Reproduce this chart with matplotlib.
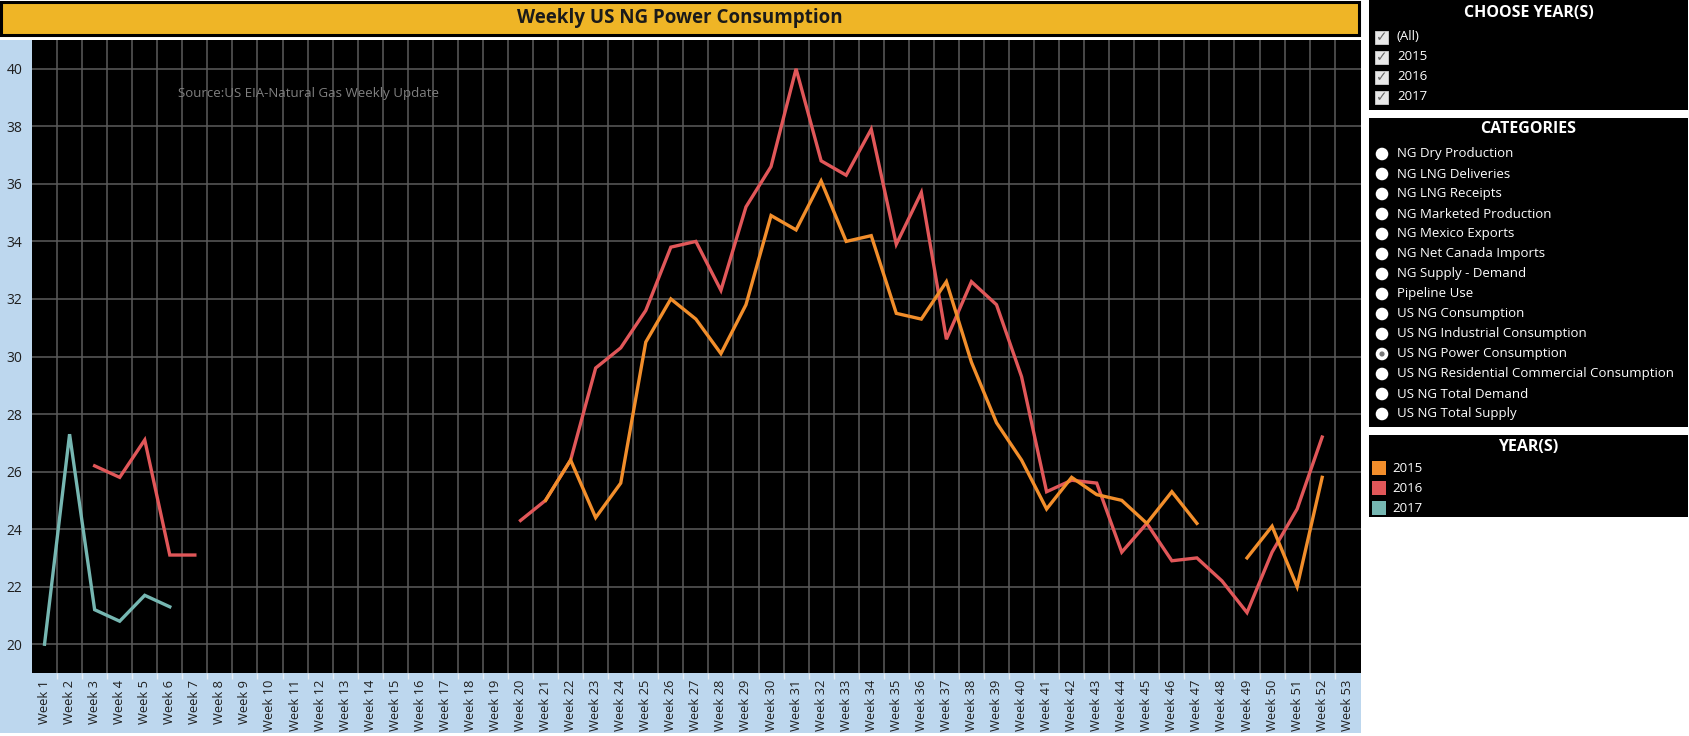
import numpy as np
import pandas as pd
import matplotlib.pyplot as plt
from matplotlib.patches import Rectangle, Circle

plt.rcParams['font.family'] = ['Open Sans', 'DejaVu Sans']

# weekly values (missing weeks left out)
weeks_2015 = list(range(21, 48)) + [49, 50, 51, 52]
vals_2015 = [25.0, 26.4, 24.4, 25.6, 30.5, 32.0, 31.3, 30.1, 31.8, 34.9,
             34.4, 36.1, 34.0, 34.2, 31.5, 31.3, 32.6, 29.8, 27.7, 26.4,
             24.7, 25.8, 25.2, 25.0, 24.2, 25.3, 24.2,
             23.0, 24.1, 22.0, 25.8]
weeks_2016 = [3, 4, 5, 6, 7] + list(range(20, 53))
vals_2016 = [26.2, 25.8, 27.1, 23.1, 23.1,
             24.3, 25.0, 26.4, 29.6, 30.3, 31.6, 33.8, 34.0, 32.3, 35.2,
             36.6, 40.0, 36.8, 36.3, 37.9, 33.9, 35.7, 30.6, 32.6, 31.8,
             29.3, 25.3, 25.7, 25.6, 23.2, 24.2, 22.9, 23.0, 22.2, 21.1,
             23.2, 24.7, 27.2]
weeks_2017 = [1, 2, 3, 4, 5, 6]
vals_2017 = [20.0, 27.3, 21.2, 20.8, 21.7, 21.3]

week_labels = ['Week %i' % i for i in range(1, 54)]
years = ['2015', '2016', '2017']
year_colors = ['#F28E2B', '#E15759', '#76B7B2']
categories = ['NG Dry Production', 'NG LNG Deliveries', 'NG LNG Receipts',
              'NG Marketed Production', 'NG Mexico Exports', 'NG Net Canada Imports',
              'NG Supply - Demand', 'Pipeline Use', 'US NG Consumption',
              'US NG Industrial Consumption', 'US NG Power Consumption',
              'US NG Residential Commercial Consumption', 'US NG Total Demand',
              'US NG Total Supply']
selected = 'US NG Power Consumption'

W, H = 1689, 736
fig = plt.figure(figsize=(W / 100, H / 100), dpi=100)
fig.patch.set_facecolor('white')

# pixel overlay for the dashboard frame
bg = fig.add_axes([0, 0, 1, 1], zorder=0)
bg.set_xlim(0, W)
bg.set_ylim(H, 0)
bg.axis('off')

# title bar and chart panel
bg.add_patch(Rectangle((1.5, 1.5), 1358, 33, facecolor='#EFB526',
                       edgecolor='black', linewidth=2.2))
bg.text(680, 18, 'Weekly US NG Power Consumption', ha='center', va='center',
        fontsize=13.5, fontweight='bold', color='#1a1a1a')
bg.add_patch(Rectangle((0, 40), 1361, 693, facecolor='#BDD7EE', edgecolor='none'))

# main plot
pl, pt, pr, pb = 32, 40, 1361, 673
ax = fig.add_axes([pl / W, 1 - pb / H, (pr - pl) / W, (pb - pt) / H], zorder=1)
ax.set_facecolor('black')

x = np.arange(1, 54)
series = {}
for yr, wk, vals in [('2016', weeks_2016, vals_2016),
                     ('2015', weeks_2015, vals_2015),
                     ('2017', weeks_2017, vals_2017)]:
    series[yr] = pd.Series(vals, index=wk).reindex(x)
for yr in ['2016', '2015', '2017']:
    ax.plot(x, series[yr].values, color=year_colors[years.index(yr)],
            linewidth=2.4, solid_joinstyle='miter', zorder=3)

ax.set_xlim(0.5, 53.55)
ax.set_ylim(19, 41)
ax.set_yticks(np.arange(20, 41, 2))
ax.set_xticks(x)
ax.set_xticklabels(week_labels, rotation=90, fontsize=9.3, color='#1e1e1e')
ax.set_xticks(np.arange(1.5, 53, 1), minor=True)
ax.tick_params(axis='x', which='major', length=0, pad=5)
ax.tick_params(axis='x', which='minor', length=4, color='#e8eef5', width=1)
ax.tick_params(axis='y', length=0, pad=7, labelsize=10, labelcolor='#1e1e1e')
ax.grid(axis='y', which='major', color='#5c5c5c', linewidth=1.1)
ax.grid(axis='x', which='minor', color='#5c5c5c', linewidth=1.1)
for s in ax.spines.values():
    s.set_visible(False)
ax.text(0.11, 0.916, 'Source:US EIA-Natural Gas Weekly Update', transform=ax.transAxes,
        ha='left', va='center', fontsize=9.5, color='#808080')

# filter panel: years
px0, px1 = 1369, 1688
bg.add_patch(Rectangle((px0, 0), px1 - px0, 110, facecolor='black'))
bg.text((px0 + px1) / 2, 13, 'CHOOSE YEAR(S)', ha='center', va='center',
        fontsize=11.5, fontweight='bold', color='white')
for i, lab in enumerate(['(All)'] + years):
    yy = 37 + 20 * i
    bg.add_patch(Rectangle((1375.5, yy - 6.5), 13, 13, facecolor='#e9e9e9',
                           edgecolor='#c4c4c4', linewidth=0.7))
    bg.text(1382, yy + 0.5, '\u2713', ha='center', va='center', fontsize=10,
            color='#6a6a6a', family='DejaVu Sans')
    bg.text(1397, yy, lab, ha='left', va='center', fontsize=9.5, color='white')

# category panel
bg.add_patch(Rectangle((px0, 118), px1 - px0, 309, facecolor='black'))
bg.text((px0 + px1) / 2, 129, 'CATEGORIES', ha='center', va='center',
        fontsize=11.5, fontweight='bold', color='white')
for i, lab in enumerate(categories):
    yy = 154 + 20 * i
    bg.add_patch(Circle((1382, yy), 6.3, facecolor='white', edgecolor='none'))
    if lab == selected:
        bg.add_patch(Circle((1382, yy), 2.6, facecolor='#777777', edgecolor='none'))
    bg.text(1397, yy, lab, ha='left', va='center', fontsize=9.5, color='white')

# colour legend
bg.add_patch(Rectangle((px0, 435), px1 - px0, 82, facecolor='black'))
bg.text((px0 + px1) / 2, 447, 'YEAR(S)', ha='center', va='center',
        fontsize=11.5, fontweight='bold', color='white')
for i, (lab, c) in enumerate(zip(years, year_colors)):
    yy = 468 + 20 * i
    bg.add_patch(Rectangle((1372, yy - 7), 14, 14, facecolor=c, edgecolor='none'))
    bg.text(1392, yy, lab, ha='left', va='center', fontsize=9.5, color='white')

fig.savefig('out.png', dpi=100, facecolor='white')
